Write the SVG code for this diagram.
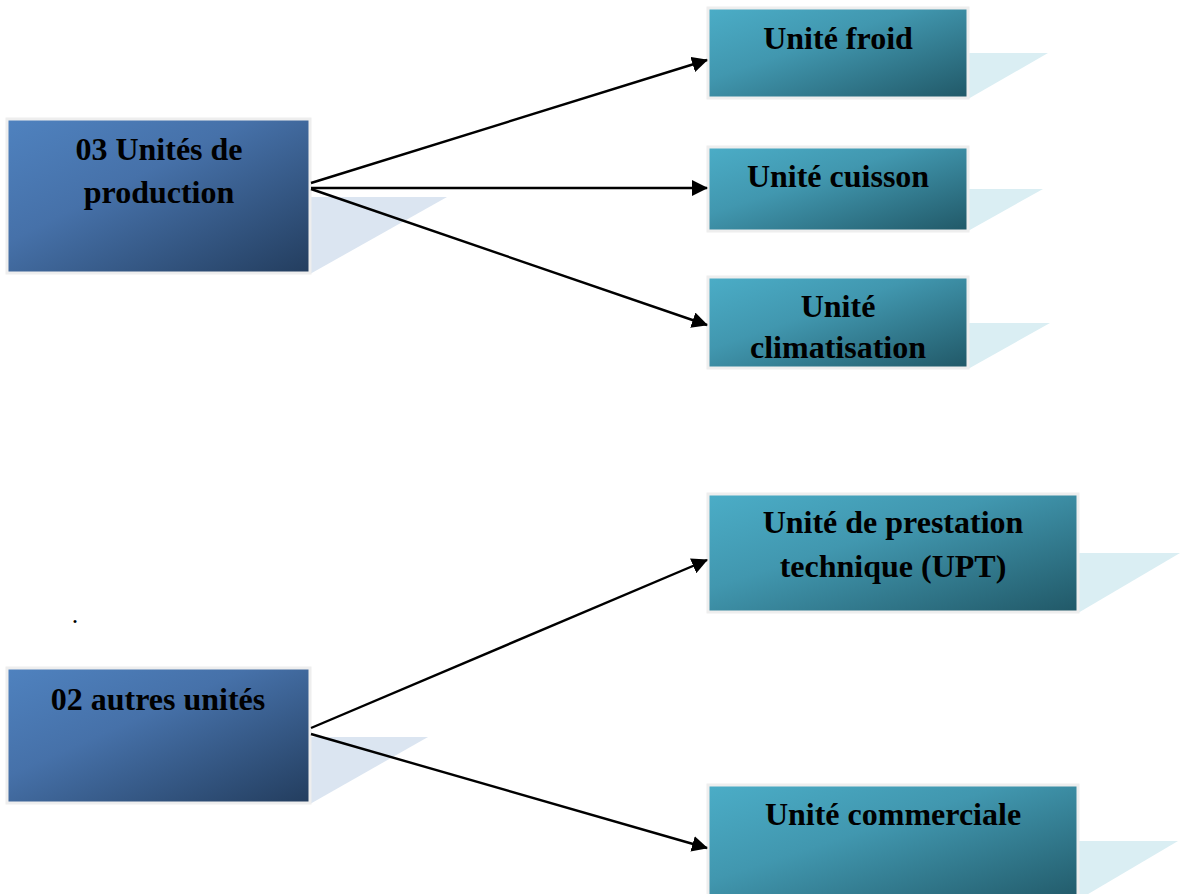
<svg xmlns="http://www.w3.org/2000/svg" width="1180" height="894" viewBox="0 0 1180 894">
  <defs>
    <linearGradient id="gBlue" x1="0" y1="0" x2="1" y2="1">
      <stop offset="0" stop-color="#4f82bf"/>
      <stop offset="0.4" stop-color="#4671a9"/>
      <stop offset="1" stop-color="#233d5e"/>
    </linearGradient>
    <linearGradient id="gTeal" x1="0" y1="0" x2="1" y2="1">
      <stop offset="0" stop-color="#4badc7"/>
      <stop offset="0.4" stop-color="#4197af"/>
      <stop offset="1" stop-color="#215867"/>
    </linearGradient>
    <marker id="arrow" viewBox="0 0 16 16" refX="15" refY="8" markerWidth="16" markerHeight="16" markerUnits="userSpaceOnUse" orient="auto">
      <path d="M0,0 L16,8 L0,16 Z" fill="#000"/>
    </marker>
  </defs>
  <style>
    .box { stroke: #eeeeee; stroke-width: 3; }
    .blue { fill: url(#gBlue); }
    .teal { fill: url(#gTeal); }
    .shBlue { fill: #dbe5f1; }
    .shTeal { fill: #daeef3; }
    .lbl { font-family: "Liberation Serif", "Times New Roman", serif; font-weight: bold; font-size: 32px; fill: #000; text-anchor: middle; }
    .link { stroke: #000; stroke-width: 2.4; fill: none; marker-end: url(#arrow); }
  </style>

  <rect width="1180" height="894" fill="#ffffff"/>

  <!-- source: production units -->
  <g id="node-production">
    <polygon class="shBlue" points="310,197 447,197 310,274"/>
    <rect class="box blue" x="7" y="119" width="303" height="154"/>
    <text class="lbl" x="159" y="160">03 Unités de</text>
    <text class="lbl" x="159" y="203">production</text>
  </g>

  <g id="node-froid">
    <polygon class="shTeal" points="968,53 1048,53 968,99"/>
    <rect class="box teal" x="708" y="8" width="260" height="90"/>
    <text class="lbl" x="838" y="49">Unité froid</text>
  </g>

  <g id="node-cuisson">
    <polygon class="shTeal" points="968,189 1043,189 968,231"/>
    <rect class="box teal" x="708" y="147" width="260" height="84"/>
    <text class="lbl" x="838" y="187">Unité cuisson</text>
  </g>

  <g id="node-climatisation">
    <polygon class="shTeal" points="968,323 1050,323 968,369"/>
    <rect class="box teal" x="708" y="277" width="260" height="91"/>
    <text class="lbl" x="838" y="317">Unité</text>
    <text class="lbl" x="838" y="358">climatisation</text>
  </g>

  <!-- source: other units -->
  <g id="node-autres">
    <polygon class="shBlue" points="310,737 428,737 310,804"/>
    <rect class="box blue" x="7" y="668" width="303" height="135"/>
    <text class="lbl" x="158" y="710">02 autres unités</text>
  </g>

  <g id="node-upt">
    <polygon class="shTeal" points="1078,553 1180,553 1078,613"/>
    <rect class="box teal" x="708" y="494" width="370" height="118"/>
    <text class="lbl" x="893" y="533">Unité de prestation</text>
    <text class="lbl" x="893" y="577">technique (UPT)</text>
  </g>

  <g id="node-commerciale">
    <polygon class="shTeal" points="1078,841 1178,841 1078,900"/>
    <rect class="box teal" x="708" y="785" width="370" height="120"/>
    <text class="lbl" x="893" y="825">Unité commerciale</text>
  </g>

  <text x="75" y="623" font-family="Liberation Serif, serif" font-size="26" text-anchor="middle">.</text>

  <g id="connectors">
    <line class="link" x1="311" y1="183" x2="707" y2="60"/>
    <line class="link" x1="311" y1="188" x2="707" y2="188"/>
    <line class="link" x1="311" y1="189" x2="707" y2="325"/>
    <line class="link" x1="311" y1="728" x2="707" y2="560"/>
    <line class="link" x1="311" y1="734" x2="707" y2="848"/>
  </g>
</svg>
